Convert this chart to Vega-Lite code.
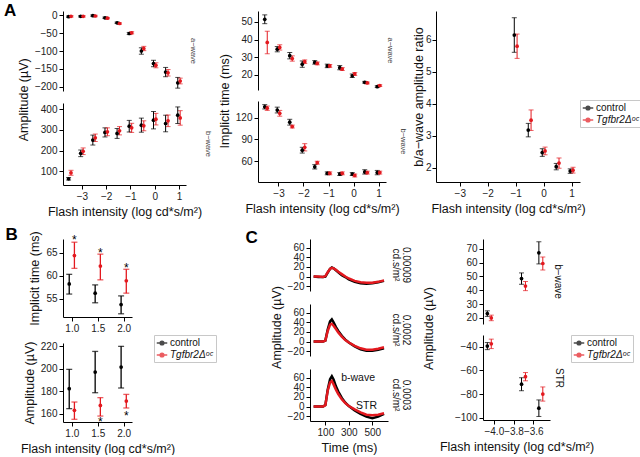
{
 "$schema": "https://vega.github.io/schema/vega-lite/v6.json",
 "padding": {"left": 3, "top": 2, "right": 0, "bottom": 0},
 "background": "white",
 "config": {
  "font": "Liberation Sans",
  "view": {"stroke": null},
  "axis": {"grid": false, "domainColor": "#000", "domainWidth": 1, "tickColor": "#000", "tickSize": 4, "tickCount": 20, "labelColor": "#222", "labelFontSize": 10, "labelPadding": 2, "titleFontSize": 12.5, "titleFontWeight": "normal", "titleColor": "#111", "titlePadding": 4, "labelOverlap": false, "labelFlush": false},
  "title": {"fontWeight": "normal", "color": "#111", "font": "Liberation Sans"},
  "legend": {"labelFontSize": 10, "labelColor": "#111", "symbolSize": 110, "symbolStrokeWidth": 1.5, "strokeColor": "#c8c8c8", "padding": 2, "rowPadding": 1, "labelOffset": 2, "labelFontStyle": {"expr": "datum.value == 't' ? 'italic' : 'normal'"}, "symbolType": "M-1,0L1,0M-0.35,0A0.35,0.35,0,1,1,0.35,0A0.35,0.35,0,1,1,-0.35,0"}
 },
 "datasets": {
  "a1": [
   {"w":"a","g":"c","x":-3.55,"v":-4,"lo":-6,"hi":-2},
   {"w":"a","g":"c","x":-3.05,"v":-3,"lo":-5,"hi":-1},
   {"w":"a","g":"c","x":-2.55,"v":-1,"lo":-3,"hi":1},
   {"w":"a","g":"c","x":-2.05,"v":-7,"lo":-9,"hi":-5},
   {"w":"a","g":"c","x":-1.55,"v":-21,"lo":-23,"hi":-19},
   {"w":"a","g":"c","x":-1.05,"v":-51,"lo":-54,"hi":-48},
   {"w":"a","g":"c","x":-0.55,"v":-100,"lo":-109,"hi":-91},
   {"w":"a","g":"c","x":-0.05,"v":-135,"lo":-144,"hi":-126},
   {"w":"a","g":"c","x":0.45,"v":-159,"lo":-172,"hi":-146},
   {"w":"a","g":"c","x":0.95,"v":-189,"lo":-204,"hi":-174},
   {"w":"a","g":"t","x":-3.45,"v":-3,"lo":-5,"hi":-1},
   {"w":"a","g":"t","x":-2.95,"v":-3,"lo":-5,"hi":-1},
   {"w":"a","g":"t","x":-2.45,"v":-2,"lo":-4,"hi":0},
   {"w":"a","g":"t","x":-1.95,"v":-8,"lo":-10,"hi":-6},
   {"w":"a","g":"t","x":-1.45,"v":-23,"lo":-25,"hi":-21},
   {"w":"a","g":"t","x":-0.95,"v":-49,"lo":-52,"hi":-46},
   {"w":"a","g":"t","x":-0.45,"v":-93,"lo":-99,"hi":-87},
   {"w":"a","g":"t","x":0.05,"v":-140,"lo":-147,"hi":-133},
   {"w":"a","g":"t","x":0.55,"v":-161,"lo":-170,"hi":-152},
   {"w":"a","g":"t","x":1.05,"v":-184,"lo":-192,"hi":-176},
   {"w":"b","g":"c","x":-3.55,"v":64,"lo":58,"hi":70},
   {"w":"b","g":"c","x":-3.05,"v":187,"lo":171,"hi":203},
   {"w":"b","g":"c","x":-2.55,"v":251,"lo":227,"hi":275},
   {"w":"b","g":"c","x":-2.05,"v":288,"lo":266,"hi":310},
   {"w":"b","g":"c","x":-1.55,"v":283,"lo":259,"hi":307},
   {"w":"b","g":"c","x":-1.05,"v":318,"lo":290,"hi":346},
   {"w":"b","g":"c","x":-0.55,"v":323,"lo":289,"hi":357},
   {"w":"b","g":"c","x":-0.05,"v":347,"lo":305,"hi":389},
   {"w":"b","g":"c","x":0.45,"v":331,"lo":291,"hi":371},
   {"w":"b","g":"c","x":0.95,"v":371,"lo":331,"hi":411},
   {"w":"b","g":"t","x":-3.45,"v":93,"lo":81,"hi":105},
   {"w":"b","g":"t","x":-2.95,"v":197,"lo":181,"hi":213},
   {"w":"b","g":"t","x":-2.45,"v":262,"lo":244,"hi":280},
   {"w":"b","g":"t","x":-1.95,"v":291,"lo":272,"hi":310},
   {"w":"b","g":"t","x":-1.45,"v":296,"lo":276,"hi":316},
   {"w":"b","g":"t","x":-0.95,"v":310,"lo":288,"hi":332},
   {"w":"b","g":"t","x":-0.45,"v":320,"lo":296,"hi":344},
   {"w":"b","g":"t","x":0.05,"v":352,"lo":324,"hi":380},
   {"w":"b","g":"t","x":0.55,"v":344,"lo":316,"hi":372},
   {"w":"b","g":"t","x":1.05,"v":358,"lo":323,"hi":393}
  ],
  "a2": [
   {"w":"a","g":"c","x":-3.55,"v":51.5,"lo":49,"hi":54},
   {"w":"a","g":"c","x":-3.05,"v":34.5,"lo":33,"hi":36},
   {"w":"a","g":"c","x":-2.55,"v":30.8,"lo":29,"hi":32.6},
   {"w":"a","g":"c","x":-2.05,"v":26,"lo":24.2,"hi":27.8},
   {"w":"a","g":"c","x":-1.55,"v":27,"lo":26,"hi":28},
   {"w":"a","g":"c","x":-1.05,"v":25,"lo":24,"hi":26},
   {"w":"a","g":"c","x":-0.55,"v":24,"lo":22.8,"hi":25.2},
   {"w":"a","g":"c","x":-0.05,"v":19.4,"lo":18.4,"hi":20.4},
   {"w":"a","g":"c","x":0.45,"v":15.7,"lo":15.2,"hi":16.2},
   {"w":"a","g":"c","x":0.95,"v":13.2,"lo":12.7,"hi":13.7},
   {"w":"a","g":"t","x":-3.45,"v":38.3,"lo":31.9,"hi":44.7},
   {"w":"a","g":"t","x":-2.95,"v":35.5,"lo":34,"hi":37},
   {"w":"a","g":"t","x":-2.45,"v":29.2,"lo":27.7,"hi":30.7},
   {"w":"a","g":"t","x":-1.95,"v":27.4,"lo":26.4,"hi":28.4},
   {"w":"a","g":"t","x":-1.45,"v":26.4,"lo":25.6,"hi":27.2},
   {"w":"a","g":"t","x":-0.95,"v":25,"lo":24.2,"hi":25.8},
   {"w":"a","g":"t","x":-0.45,"v":23.2,"lo":22.4,"hi":24},
   {"w":"a","g":"t","x":0.05,"v":20.4,"lo":19.6,"hi":21.2},
   {"w":"a","g":"t","x":0.55,"v":15.3,"lo":14.8,"hi":15.8},
   {"w":"a","g":"t","x":1.05,"v":13.8,"lo":13.3,"hi":14.3},
   {"w":"b","g":"c","x":-3.55,"v":135,"lo":132,"hi":138},
   {"w":"b","g":"c","x":-3.05,"v":130.5,"lo":126.5,"hi":134.5},
   {"w":"b","g":"c","x":-2.55,"v":113.7,"lo":109.7,"hi":117.7},
   {"w":"b","g":"c","x":-2.05,"v":75,"lo":71,"hi":79},
   {"w":"b","g":"c","x":-1.55,"v":52,"lo":49,"hi":55},
   {"w":"b","g":"c","x":-1.05,"v":43,"lo":41,"hi":45},
   {"w":"b","g":"c","x":-0.55,"v":42,"lo":40,"hi":44},
   {"w":"b","g":"c","x":-0.05,"v":42,"lo":40,"hi":44},
   {"w":"b","g":"c","x":0.45,"v":45,"lo":42,"hi":48},
   {"w":"b","g":"c","x":0.95,"v":44,"lo":41,"hi":47},
   {"w":"b","g":"t","x":-3.45,"v":133,"lo":130,"hi":136},
   {"w":"b","g":"t","x":-2.95,"v":126,"lo":122,"hi":130},
   {"w":"b","g":"t","x":-2.45,"v":107.7,"lo":105.7,"hi":109.7},
   {"w":"b","g":"t","x":-1.95,"v":79,"lo":74,"hi":84},
   {"w":"b","g":"t","x":-1.45,"v":57.7,"lo":55.7,"hi":59.7},
   {"w":"b","g":"t","x":-0.95,"v":43,"lo":41,"hi":45},
   {"w":"b","g":"t","x":-0.45,"v":43,"lo":41,"hi":45},
   {"w":"b","g":"t","x":0.05,"v":40,"lo":38,"hi":42},
   {"w":"b","g":"t","x":0.55,"v":44,"lo":42,"hi":46},
   {"w":"b","g":"t","x":1.05,"v":44,"lo":42,"hi":46}
  ],
  "a3": [
   {"g":"c","x":-1.05,"v":6.15,"lo":5.61,"hi":6.69},
   {"g":"c","x":-0.55,"v":3.18,"lo":2.97,"hi":3.39},
   {"g":"c","x":-0.05,"v":2.48,"lo":2.36,"hi":2.6},
   {"g":"c","x":0.45,"v":2.04,"lo":1.94,"hi":2.14},
   {"g":"c","x":0.95,"v":1.9,"lo":1.83,"hi":1.97},
   {"g":"t","x":-0.95,"v":5.8,"lo":5.42,"hi":6.18},
   {"g":"t","x":-0.45,"v":3.49,"lo":3.17,"hi":3.81},
   {"g":"t","x":0.05,"v":2.53,"lo":2.41,"hi":2.65},
   {"g":"t","x":0.55,"v":2.15,"lo":1.99,"hi":2.31},
   {"g":"t","x":1.05,"v":1.93,"lo":1.84,"hi":2.02}
  ],
  "b": [
   {"p":"t","g":"c","x":0.95,"v":58.2,"lo":56.0,"hi":60.3},
   {"p":"t","g":"c","x":1.45,"v":56.2,"lo":54.1,"hi":58.0},
   {"p":"t","g":"c","x":1.95,"v":53.7,"lo":51.7,"hi":55.6},
   {"p":"t","g":"t","x":1.05,"v":64.4,"lo":61.6,"hi":67.3},
   {"p":"t","g":"t","x":1.55,"v":62.1,"lo":59.1,"hi":64.7},
   {"p":"t","g":"t","x":2.05,"v":58.9,"lo":56.2,"hi":61.4},
   {"p":"a","g":"c","x":0.95,"v":182.3,"lo":164.5,"hi":199.5},
   {"p":"a","g":"c","x":1.45,"v":197.1,"lo":178.7,"hi":215.5},
   {"p":"a","g":"c","x":1.95,"v":201.6,"lo":182.9,"hi":220},
   {"p":"a","g":"t","x":1.05,"v":163,"lo":155,"hi":170.4},
   {"p":"a","g":"t","x":1.55,"v":167.4,"lo":157.9,"hi":174.3},
   {"p":"a","g":"t","x":2.05,"v":171.3,"lo":165.1,"hi":177.2}
  ],
  "bs": [
   {"p":"t","x":1.05,"y":68.4,"s":"*"},
   {"p":"t","x":1.55,"y":65.6,"s":"*"},
   {"p":"t","x":2.05,"y":62.4,"s":"*"},
   {"p":"a","x":1.55,"y":155.5,"s":"*"},
   {"p":"a","x":2.05,"y":160.9,"s":"*"}
  ],
  "cr": [
   {"p":"b","g":"c","x":-4.066,"v":23.1,"lo":21.1,"hi":25.1},
   {"p":"b","g":"c","x":-3.719,"v":48.4,"lo":44.3,"hi":52.5},
   {"p":"b","g":"c","x":-3.543,"v":67,"lo":59,"hi":75},
   {"p":"b","g":"t","x":-4.026,"v":20,"lo":18,"hi":22},
   {"p":"b","g":"t","x":-3.679,"v":43,"lo":39.7,"hi":46.3},
   {"p":"b","g":"t","x":-3.503,"v":59.3,"lo":54.6,"hi":64},
   {"p":"s","g":"c","x":-4.066,"v":-39.4,"lo":-42.4,"hi":-36.4},
   {"p":"s","g":"c","x":-3.719,"v":-71.7,"lo":-77.2,"hi":-66.2},
   {"p":"s","g":"c","x":-3.543,"v":-92,"lo":-99,"hi":-85},
   {"p":"s","g":"t","x":-4.026,"v":-37.5,"lo":-41.5,"hi":-33.5},
   {"p":"s","g":"t","x":-3.679,"v":-65.3,"lo":-68.8,"hi":-61.8},
   {"p":"s","g":"t","x":-3.503,"v":-80,"lo":-86,"hi":-74}
  ],
  "cl": [
   {"t":235,"v":60,"s":"b-wave"},
   {"t":362,"v":1,"s":"STR"}
  ],
  "ct": [
   {"p":"1","g":"c","t":0,"v":0},{"p":"1","g":"c","t":40,"v":-1},{"p":"1","g":"c","t":80,"v":-1},{"p":"1","g":"c","t":100,"v":0},{"p":"1","g":"c","t":120,"v":8},{"p":"1","g":"c","t":140,"v":16},{"p":"1","g":"c","t":155,"v":19},{"p":"1","g":"c","t":170,"v":17},{"p":"1","g":"c","t":190,"v":13},{"p":"1","g":"c","t":210,"v":9},{"p":"1","g":"c","t":240,"v":3},{"p":"1","g":"c","t":270,"v":-1},{"p":"1","g":"c","t":300,"v":-6},{"p":"1","g":"c","t":350,"v":-11},{"p":"1","g":"c","t":400,"v":-14},{"p":"1","g":"c","t":450,"v":-15},{"p":"1","g":"c","t":500,"v":-14},{"p":"1","g":"c","t":550,"v":-12},{"p":"1","g":"c","t":600,"v":-9},
   {"p":"1","g":"t","t":0,"v":0},{"p":"1","g":"t","t":40,"v":0},{"p":"1","g":"t","t":80,"v":-1},{"p":"1","g":"t","t":100,"v":1},{"p":"1","g":"t","t":120,"v":9},{"p":"1","g":"t","t":140,"v":16},{"p":"1","g":"t","t":155,"v":18},{"p":"1","g":"t","t":170,"v":17},{"p":"1","g":"t","t":190,"v":14},{"p":"1","g":"t","t":210,"v":10},{"p":"1","g":"t","t":240,"v":5},{"p":"1","g":"t","t":270,"v":0},{"p":"1","g":"t","t":300,"v":-4},{"p":"1","g":"t","t":350,"v":-9},{"p":"1","g":"t","t":400,"v":-12},{"p":"1","g":"t","t":450,"v":-13},{"p":"1","g":"t","t":500,"v":-13},{"p":"1","g":"t","t":550,"v":-11},{"p":"1","g":"t","t":600,"v":-8},
   {"p":"2","g":"c","t":0,"v":0},{"p":"2","g":"c","t":40,"v":0},{"p":"2","g":"c","t":80,"v":0},{"p":"2","g":"c","t":100,"v":2},{"p":"2","g":"c","t":120,"v":25},{"p":"2","g":"c","t":140,"v":42},{"p":"2","g":"c","t":155,"v":46},{"p":"2","g":"c","t":170,"v":40},{"p":"2","g":"c","t":190,"v":30},{"p":"2","g":"c","t":210,"v":22},{"p":"2","g":"c","t":240,"v":12},{"p":"2","g":"c","t":270,"v":4},{"p":"2","g":"c","t":300,"v":-2},{"p":"2","g":"c","t":350,"v":-10},{"p":"2","g":"c","t":400,"v":-16},{"p":"2","g":"c","t":450,"v":-19},{"p":"2","g":"c","t":500,"v":-19},{"p":"2","g":"c","t":550,"v":-17},{"p":"2","g":"c","t":600,"v":-14},
   {"p":"2","g":"t","t":0,"v":0},{"p":"2","g":"t","t":40,"v":0},{"p":"2","g":"t","t":80,"v":0},{"p":"2","g":"t","t":100,"v":2},{"p":"2","g":"t","t":120,"v":22},{"p":"2","g":"t","t":140,"v":35},{"p":"2","g":"t","t":155,"v":37},{"p":"2","g":"t","t":170,"v":33},{"p":"2","g":"t","t":190,"v":26},{"p":"2","g":"t","t":210,"v":19},{"p":"2","g":"t","t":240,"v":10},{"p":"2","g":"t","t":270,"v":3},{"p":"2","g":"t","t":300,"v":-2},{"p":"2","g":"t","t":350,"v":-9},{"p":"2","g":"t","t":400,"v":-14},{"p":"2","g":"t","t":450,"v":-17},{"p":"2","g":"t","t":500,"v":-17},{"p":"2","g":"t","t":550,"v":-15},{"p":"2","g":"t","t":600,"v":-12},
   {"p":"3","g":"c","t":0,"v":0},{"p":"3","g":"c","t":40,"v":0},{"p":"3","g":"c","t":80,"v":0},{"p":"3","g":"c","t":100,"v":3},{"p":"3","g":"c","t":120,"v":35},{"p":"3","g":"c","t":140,"v":57},{"p":"3","g":"c","t":155,"v":63},{"p":"3","g":"c","t":170,"v":56},{"p":"3","g":"c","t":190,"v":42},{"p":"3","g":"c","t":210,"v":31},{"p":"3","g":"c","t":240,"v":18},{"p":"3","g":"c","t":270,"v":8},{"p":"3","g":"c","t":300,"v":1},{"p":"3","g":"c","t":350,"v":-8},{"p":"3","g":"c","t":400,"v":-15},{"p":"3","g":"c","t":450,"v":-21},{"p":"3","g":"c","t":500,"v":-24},{"p":"3","g":"c","t":550,"v":-21},{"p":"3","g":"c","t":600,"v":-15},
   {"p":"3","g":"t","t":0,"v":0},{"p":"3","g":"t","t":40,"v":0},{"p":"3","g":"t","t":80,"v":0},{"p":"3","g":"t","t":100,"v":3},{"p":"3","g":"t","t":120,"v":33},{"p":"3","g":"t","t":140,"v":50},{"p":"3","g":"t","t":155,"v":53},{"p":"3","g":"t","t":170,"v":46},{"p":"3","g":"t","t":190,"v":35},{"p":"3","g":"t","t":210,"v":26},{"p":"3","g":"t","t":240,"v":15},{"p":"3","g":"t","t":270,"v":7},{"p":"3","g":"t","t":300,"v":1},{"p":"3","g":"t","t":350,"v":-6},{"p":"3","g":"t","t":400,"v":-12},{"p":"3","g":"t","t":450,"v":-17},{"p":"3","g":"t","t":500,"v":-18},{"p":"3","g":"t","t":550,"v":-17},{"p":"3","g":"t","t":600,"v":-14}
  ]
 },
 "resolve": {"scale": {"color": "independent"}, "legend": {"color": "independent"}},
 "spacing": 7,
 "vconcat": [
  {
   "title": {"text": "A", "anchor": "start", "fontSize": 17, "fontWeight": "bold", "color": "#000", "offset": -10, "dx": -14},
   "resolve": {"scale": {"color": "independent"}, "legend": {"color": "independent"}},
   "spacing": 5,
   "hconcat": [
    {
     "title": {"text": "Amplitude (µV)", "orient": "left", "anchor": "end", "dx": -48, "fontSize": 12.5, "offset": 4},
     "resolve": {"scale": {"color": "independent"}, "legend": {"color": "independent"}},
     "spacing": 11,
     "vconcat": [
      {
       "width": 123, "height": 80,
       "data": {"name": "a1"},
       "transform": [{"filter": {"field": "w", "equal": "a"}}],
       "title": {"text": "a−wave", "orient": "right", "fontSize": 7.5, "offset": 3, "color": "#444"},
       "encoding": {"x": {"field": "x", "type": "quantitative", "scale": {"domain": [-3.78, 1.29], "nice": false, "zero": false}, "axis": null}},
       "layer": [
        {"mark": {"type": "errorbar", "ticks": true, "size": 5, "thickness": 1},
         "encoding": {"y": {"field": "lo", "type": "quantitative", "title": null, "scale": {"domain": [-212, 12], "nice": false, "zero": false}, "axis": {"values": [-200, -150, -100, -50, 0], "format": "d"}}, "y2": {"field": "hi"},
          "color": {"field": "g", "type": "nominal", "scale": {"domain": ["c", "t"], "range": ["#000000", "#e3191f"]}, "legend": null}}},
        {"mark": {"type": "point", "filled": true, "size": 14, "opacity": 1},
         "encoding": {"y": {"field": "v", "type": "quantitative", "title": null}, "color": {"field": "g", "type": "nominal", "legend": null}}}
       ]
      },
      {
       "width": 123, "height": 82,
       "data": {"name": "a1"},
       "transform": [{"filter": {"field": "w", "equal": "b"}}],
       "title": {"text": "b−wave", "orient": "right", "fontSize": 7.5, "offset": 3, "color": "#444"},
       "encoding": {"x": {"field": "x", "type": "quantitative", "scale": {"domain": [-3.78, 1.29], "nice": false, "zero": false}, "axis": {"values": [-3, -2, -1, 0, 1], "format": "d", "title": "Flash intensity (log cd*s/m²)"}}},
       "layer": [
        {"mark": {"type": "errorbar", "ticks": true, "size": 5, "thickness": 1},
         "encoding": {"y": {"field": "lo", "type": "quantitative", "title": null, "scale": {"domain": [34, 430], "nice": false, "zero": false}, "axis": {"values": [100, 200, 300, 400], "format": "d"}}, "y2": {"field": "hi"},
          "color": {"field": "g", "type": "nominal", "scale": {"domain": ["c", "t"], "range": ["#000000", "#e3191f"]}, "legend": null}}},
        {"mark": {"type": "point", "filled": true, "size": 14, "opacity": 1},
         "encoding": {"y": {"field": "v", "type": "quantitative", "title": null}, "color": {"field": "g", "type": "nominal", "legend": null}}}
       ]
      }
     ]
    },
    {
     "title": {"text": "Implicit time (ms)", "orient": "left", "anchor": "end", "dx": -43, "fontSize": 12.5, "offset": 4},
     "resolve": {"scale": {"color": "independent"}, "legend": {"color": "independent"}},
     "spacing": 11,
     "vconcat": [
      {
       "width": 128, "height": 79,
       "data": {"name": "a2"},
       "transform": [{"filter": {"field": "w", "equal": "a"}}],
       "title": {"text": "a−wave", "orient": "right", "fontSize": 7.5, "offset": 0, "color": "#444"},
       "encoding": {"x": {"field": "x", "type": "quantitative", "scale": {"domain": [-3.82, 1.3], "nice": false, "zero": false}, "axis": null}},
       "layer": [
        {"mark": {"type": "errorbar", "ticks": true, "size": 5, "thickness": 1},
         "encoding": {"y": {"field": "lo", "type": "quantitative", "title": null, "scale": {"domain": [11.3, 56.2], "nice": false, "zero": false}, "axis": {"values": [20, 30, 40, 50], "format": "d"}}, "y2": {"field": "hi"},
          "color": {"field": "g", "type": "nominal", "scale": {"domain": ["c", "t"], "range": ["#000000", "#e3191f"]}, "legend": null}}},
        {"mark": {"type": "point", "filled": true, "size": 14, "opacity": 1},
         "encoding": {"y": {"field": "v", "type": "quantitative", "title": null}, "color": {"field": "g", "type": "nominal", "legend": null}}}
       ]
      },
      {
       "width": 128, "height": 81,
       "data": {"name": "a2"},
       "transform": [{"filter": {"field": "w", "equal": "b"}}],
       "title": {"text": "b−wave", "orient": "right", "fontSize": 7.5, "offset": 0, "color": "#444"},
       "encoding": {"x": {"field": "x", "type": "quantitative", "scale": {"domain": [-3.82, 1.3], "nice": false, "zero": false}, "axis": {"values": [-3, -2, -1, 0, 1], "format": "d", "title": "Flash intensity (log cd*s/m²)"}}},
       "layer": [
        {"mark": {"type": "errorbar", "ticks": true, "size": 5, "thickness": 1},
         "encoding": {"y": {"field": "lo", "type": "quantitative", "title": null, "scale": {"domain": [31, 143], "nice": false, "zero": false}, "axis": {"values": [60, 90, 120], "format": "d"}}, "y2": {"field": "hi"},
          "color": {"field": "g", "type": "nominal", "scale": {"domain": ["c", "t"], "range": ["#000000", "#e3191f"]}, "legend": null}}},
        {"mark": {"type": "point", "filled": true, "size": 14, "opacity": 1},
         "encoding": {"y": {"field": "v", "type": "quantitative", "title": null}, "color": {"field": "g", "type": "nominal", "legend": null}}}
       ]
      }
     ]
    },
    {
     "width": 144, "height": 171,
     "data": {"name": "a3"},
     "encoding": {"x": {"field": "x", "type": "quantitative", "scale": {"domain": [-3.85, 1.3], "nice": false, "zero": false}, "axis": {"values": [-3, -2, -1, 0, 1], "format": "d", "title": "Flash intensity (log cd*s/m²)"}}},
     "layer": [
      {"mark": {"type": "errorbar", "ticks": true, "size": 5, "thickness": 1},
       "encoding": {"y": {"field": "lo", "type": "quantitative", "title": "b/a−wave amplitude ratio", "scale": {"domain": [1.56, 6.9], "nice": false, "zero": false}, "axis": {"values": [2, 3, 4, 5, 6], "format": "d", "titlePadding": 0, "labelPadding": 1}}, "y2": {"field": "hi"},
        "color": {"field": "g", "type": "nominal", "scale": {"domain": ["c", "t"], "range": ["#000000", "#e3191f"]}, "legend": {"orient": "none", "legendX": 144, "legendY": 89, "title": null, "labelExpr": "datum.value == 'c' ? 'control' : 'Tgfbr2Δᵒᶜ'"}}}},
      {"mark": {"type": "point", "filled": true, "size": 14, "opacity": 1},
       "encoding": {"y": {"field": "v", "type": "quantitative", "title": "b/a−wave amplitude ratio"}, "color": {"field": "g", "type": "nominal"}}}
     ]
    }
   ]
  },
  {
   "resolve": {"scale": {"color": "independent"}, "legend": {"color": "independent"}},
   "spacing": 28,
   "hconcat": [
    {
     "title": {"text": "B", "anchor": "start", "fontSize": 17, "fontWeight": "bold", "color": "#000", "offset": -13, "dx": -15},
     "resolve": {"scale": {"color": "independent"}, "legend": {"color": "independent"}},
     "spacing": 1,
     "vconcat": [
      {
       "width": 69, "height": 78,
       "layer": [
        {"data": {"name": "b"}, "transform": [{"filter": {"field": "p", "equal": "t"}}],
         "mark": {"type": "errorbar", "ticks": true, "size": 6, "thickness": 1.3},
         "encoding": {"x": {"field": "x", "type": "quantitative", "scale": {"domain": [0.83, 2.16], "nice": false, "zero": false}, "axis": {"values": [1, 1.5, 2], "format": ".1f", "title": null}},
          "y": {"field": "lo", "type": "quantitative", "title": "Implicit time (ms)", "scale": {"domain": [51, 68], "nice": false, "zero": false}, "axis": {"values": [55, 60, 65], "format": "d"}}, "y2": {"field": "hi"},
          "color": {"field": "g", "type": "nominal", "scale": {"domain": ["c", "t"], "range": ["#000000", "#e3191f"]}, "legend": null}}},
        {"data": {"name": "b"}, "transform": [{"filter": {"field": "p", "equal": "t"}}],
         "mark": {"type": "point", "filled": true, "size": 14, "opacity": 1},
         "encoding": {"x": {"field": "x", "type": "quantitative"}, "y": {"field": "v", "type": "quantitative", "title": "Implicit time (ms)"}, "color": {"field": "g", "type": "nominal", "legend": null}}},
        {"data": {"name": "bs"}, "transform": [{"filter": {"field": "p", "equal": "t"}}],
         "mark": {"type": "text", "fontSize": 12, "baseline": "middle", "dy": 3, "color": "#000"},
         "encoding": {"x": {"field": "x", "type": "quantitative"}, "y": {"field": "y", "type": "quantitative", "title": "Implicit time (ms)"}, "text": {"field": "s"}}}
       ]
      },
      {
       "width": 69, "height": 79,
       "layer": [
        {"data": {"name": "b"}, "transform": [{"filter": {"field": "p", "equal": "a"}}],
         "mark": {"type": "errorbar", "ticks": true, "size": 6, "thickness": 1.3},
         "encoding": {"x": {"field": "x", "type": "quantitative", "scale": {"domain": [0.83, 2.16], "nice": false, "zero": false}, "axis": {"values": [1, 1.5, 2], "format": ".1f", "title": "Flash intensity (log cd*s/m²)"}},
          "y": {"field": "lo", "type": "quantitative", "title": "Amplitude (µV)", "scale": {"domain": [152.6, 223], "nice": false, "zero": false}, "axis": {"values": [160, 180, 200, 220], "format": "d"}}, "y2": {"field": "hi"},
          "color": {"field": "g", "type": "nominal", "scale": {"domain": ["c", "t"], "range": ["#000000", "#e3191f"]}, "legend": {"orient": "none", "legendX": 91, "legendY": -8, "title": null, "labelExpr": "datum.value == 'c' ? 'control' : 'Tgfbr2Δᵒᶜ'"}}}},
        {"data": {"name": "b"}, "transform": [{"filter": {"field": "p", "equal": "a"}}],
         "mark": {"type": "point", "filled": true, "size": 14, "opacity": 1},
         "encoding": {"x": {"field": "x", "type": "quantitative"}, "y": {"field": "v", "type": "quantitative", "title": "Amplitude (µV)"}, "color": {"field": "g", "type": "nominal"}}},
        {"data": {"name": "bs"}, "transform": [{"filter": {"field": "p", "equal": "a"}}],
         "mark": {"type": "text", "fontSize": 12, "baseline": "middle", "dy": 3, "color": "#000"},
         "encoding": {"x": {"field": "x", "type": "quantitative"}, "y": {"field": "y", "type": "quantitative", "title": "Amplitude (µV)"}, "text": {"field": "s"}}}
       ]
      }
     ]
    },
    {
     "title": {"text": "C", "anchor": "start", "fontSize": 17, "fontWeight": "bold", "color": "#000", "offset": -8, "dx": -25},
     "resolve": {"scale": {"color": "independent"}, "legend": {"color": "independent"}},
     "spacing": 10,
     "hconcat": [
      {
       "title": {"text": "Amplitude (µV)", "orient": "left", "anchor": "end", "dx": -47, "fontSize": 12.5, "offset": 4},
       "resolve": {"scale": {"color": "independent"}, "legend": {"color": "independent"}},
       "spacing": 12,
       "vconcat": [
        {
         "width": 78, "height": 52,
         "data": {"name": "ct"},
         "transform": [{"filter": {"field": "p", "equal": "1"}}],
         "title": {"text": ["0.00009", "cd.s/m²"], "orient": "right", "fontSize": 10, "lineHeight": 10, "offset": 2},
         "mark": {"type": "line", "strokeWidth": 2.5},
         "encoding": {
          "x": {"field": "t", "type": "quantitative", "scale": {"domain": [-31, 634], "nice": false, "zero": false}, "axis": null},
          "y": {"field": "v", "type": "quantitative", "title": null, "scale": {"domain": [-30, 78], "nice": false, "zero": false}, "axis": {"values": [-20, 0, 20, 40, 60], "format": "d"}},
          "color": {"field": "g", "type": "nominal", "scale": {"domain": ["c", "t"], "range": ["#000000", "#e3191f"]}, "legend": null}
         }
        },
        {
         "width": 78, "height": 52,
         "data": {"name": "ct"},
         "transform": [{"filter": {"field": "p", "equal": "2"}}],
         "title": {"text": ["0.0002", "cd.s/m²"], "orient": "right", "fontSize": 10, "lineHeight": 10, "offset": 2},
         "mark": {"type": "line", "strokeWidth": 2.5},
         "encoding": {
          "x": {"field": "t", "type": "quantitative", "scale": {"domain": [-31, 634], "nice": false, "zero": false}, "axis": null},
          "y": {"field": "v", "type": "quantitative", "title": null, "scale": {"domain": [-30, 78], "nice": false, "zero": false}, "axis": {"values": [-20, 0, 20, 40, 60], "format": "d"}},
          "color": {"field": "g", "type": "nominal", "scale": {"domain": ["c", "t"], "range": ["#000000", "#e3191f"]}, "legend": null}
         }
        },
        {
         "width": 78, "height": 52,
         "title": {"text": ["0.0003", "cd.s/m²"], "orient": "right", "fontSize": 10, "lineHeight": 10, "offset": 2},
         "layer": [
          {"data": {"name": "ct"},
           "transform": [{"filter": {"field": "p", "equal": "3"}}],
           "mark": {"type": "line", "strokeWidth": 2.5},
           "encoding": {
            "x": {"field": "t", "type": "quantitative", "scale": {"domain": [-31, 634], "nice": false, "zero": false}, "axis": {"values": [100, 300, 500], "format": "d", "title": "Time (ms)"}},
            "y": {"field": "v", "type": "quantitative", "title": null, "scale": {"domain": [-30, 78], "nice": false, "zero": false}, "axis": {"values": [-20, 0, 20, 40, 60], "format": "d"}},
            "color": {"field": "g", "type": "nominal", "scale": {"domain": ["c", "t"], "range": ["#000000", "#e3191f"]}, "legend": null}
           }},
          {"data": {"name": "cl"},
           "mark": {"type": "text", "fontSize": 10.5, "align": "left", "baseline": "middle", "color": "#111"},
           "encoding": {"x": {"field": "t", "type": "quantitative", "title": "Time (ms)"}, "y": {"field": "v", "type": "quantitative", "title": null}, "text": {"field": "s"}}}
         ]
        }
       ]
      },
      {
       "title": {"text": "Amplitude (µV)", "orient": "left", "anchor": "end", "dx": -48, "fontSize": 12.5, "offset": 4},
       "resolve": {"scale": {"color": "independent"}, "legend": {"color": "independent"}},
       "spacing": 10,
       "vconcat": [
        {
         "width": 67, "height": 85,
         "data": {"name": "cr"},
         "transform": [{"filter": {"field": "p", "equal": "b"}}],
         "title": {"text": "b−wave", "orient": "right", "fontSize": 10, "offset": 3},
         "encoding": {"x": {"field": "x", "type": "quantitative", "scale": {"domain": [-4.11, -3.43], "nice": false, "zero": false}, "axis": null}},
         "layer": [
          {"mark": {"type": "errorbar", "ticks": true, "size": 5, "thickness": 1},
           "encoding": {"y": {"field": "lo", "type": "quantitative", "title": null, "scale": {"domain": [15.6, 77], "nice": false, "zero": false}, "axis": {"values": [20, 30, 40, 50, 60, 70], "format": "d"}}, "y2": {"field": "hi"},
            "color": {"field": "g", "type": "nominal", "scale": {"domain": ["c", "t"], "range": ["#000000", "#e3191f"]}, "legend": null}}},
          {"mark": {"type": "point", "filled": true, "size": 14, "opacity": 1},
           "encoding": {"y": {"field": "v", "type": "quantitative", "title": null}, "color": {"field": "g", "type": "nominal", "legend": null}}}
         ]
        },
        {
         "width": 67, "height": 85,
         "data": {"name": "cr"},
         "transform": [{"filter": {"field": "p", "equal": "s"}}],
         "resolve": {"scale": {"y": "independent"}, "axis": {"y": "independent"}},
         "encoding": {"x": {"field": "x", "type": "quantitative", "scale": {"domain": [-4.11, -3.43], "nice": false, "zero": false}, "axis": {"values": [-4.0, -3.8, -3.6], "format": ".1f", "title": "Flash intensity (log cd*s/m²)"}}},
         "layer": [
          {"mark": {"type": "errorbar", "ticks": true, "size": 5, "thickness": 1},
           "encoding": {"y": {"field": "lo", "type": "quantitative", "title": null, "scale": {"domain": [-102, -30], "nice": false, "zero": false}, "axis": {"values": [-100, -80, -60, -40], "format": "d"}}, "y2": {"field": "hi"},
            "color": {"field": "g", "type": "nominal", "scale": {"domain": ["c", "t"], "range": ["#000000", "#e3191f"]}, "legend": {"orient": "none", "legendX": 88, "legendY": 0, "title": null, "labelExpr": "datum.value == 'c' ? 'control' : 'Tgfbr2Δᵒᶜ'"}}}},
          {"mark": {"type": "point", "filled": true, "size": 14, "opacity": 1},
           "encoding": {"y": {"field": "v", "type": "quantitative", "scale": {"domain": [-102, -30], "nice": false, "zero": false}, "axis": {"orient": "right", "title": "STR", "labels": false, "ticks": false, "domain": false, "titleFontSize": 10, "titlePadding": 3, "titleAngle": 90}}, "color": {"field": "g", "type": "nominal"}}}
         ]
        }
       ]
      }
     ]
    }
   ]
  }
 ]
}
